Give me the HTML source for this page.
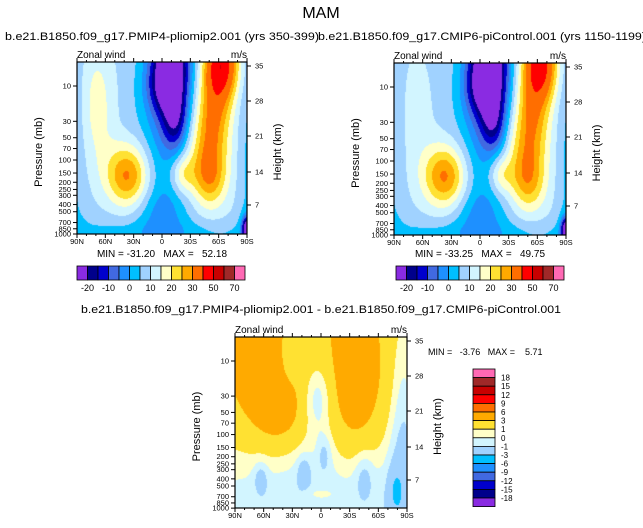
<!DOCTYPE html>
<html><head><meta charset="utf-8">
<style>
html,body{margin:0;padding:0;background:#fff;}
#wrap{position:relative;width:643px;height:528px;overflow:hidden;font-family:"Liberation Sans",sans-serif;}
canvas{position:absolute;}
svg{position:absolute;left:0;top:0;}
</style></head>
<body>
<div id="wrap">
<canvas id="cA" width="170" height="172" style="left:77px;top:62px"></canvas>
<canvas id="cB" width="172" height="172" style="left:394px;top:63px"></canvas>
<canvas id="cC" width="172" height="171" style="left:235px;top:337px"></canvas>
<svg id="sv" width="643" height="528"></svg>
</div>
<script>
// ---- data ----
const colors=["#8a2be2","#00008b","#0000cd","#4169e1","#1e90ff","#00bfff","#a0d2ff","#d2f5ff","#ffffc8","#ffe132","#ffaa00","#ff6e00","#ff0000","#c80000","#a02828","#ff69b4"];
const levelsTop=[-20,-15,-10,-5,0,5,10,15,20,25,30,40,50,60,70];
const levelsDiff=[-18,-15,-12,-9,-6,-3,-1,0,1,3,6,9,12,15,18];
const topTickLabels=["-20","-10","0","10","20","30","50","70"];
const latLabels=["90N","60N","30N","0","30S","60S","90S"];
const pressureLabels=[10,30,50,70,100,150,200,250,300,400,500,700,850,1000];
const heightLabels=[35,28,21,14,7];
const heightOffsets=[4,39,74,110,143];
// blobs: [u, v, sx, sy, amplitude]
const baseA=7;
const blobsA=[[0.12,0.25,0.08,0.3,10],[0.3,0.66,0.09,0.13,24],[0.55,0.03,0.08,0.2,-40],[0.5,0.15,0.07,0.1,-8],[0.58,0.35,0.05,0.12,-16],
[0.5,0.55,0.1,0.3,-7],[0.5,0.88,0.1,0.1,-6],[0.85,0.0,0.07,0.15,36],[0.8,0.3,0.07,0.2,18],[0.74,0.55,0.08,0.17,10],
[0.62,0.65,0.05,0.08,12],[0.78,0.68,0.07,0.12,13],[0.85,0.5,0.1,0.4,4],[0.5,1.0,0.6,0.06,-5],[1.0,0.97,0.02,0.05,-35],[0.0,0.5,0.04,0.6,-3],[1.0,0.5,0.04,0.6,-4]];
const baseB=7;
const blobsB=[[0.13,0.3,0.09,0.35,5],[0.3,0.66,0.09,0.13,24],[0.55,0.03,0.08,0.2,-42],[0.5,0.15,0.07,0.1,-8],[0.58,0.35,0.05,0.12,-16],
[0.5,0.55,0.1,0.3,-7],[0.5,0.88,0.1,0.1,-6],[0.85,0.0,0.07,0.15,34],[0.8,0.3,0.07,0.2,17],[0.74,0.55,0.08,0.17,10],
[0.62,0.65,0.05,0.08,11],[0.78,0.7,0.07,0.12,12],[0.85,0.5,0.1,0.4,4],[0.5,1.0,0.6,0.06,-5],[1.0,0.97,0.02,0.05,-35],[0.0,0.5,0.04,0.6,-3],[1.0,0.5,0.04,0.6,-4]];
const baseC=2.5;
const blobsC=[[0.5,1.0,0.8,0.35,-3.5],[0.15,0.15,0.12,0.3,2.5],[0.27,0.45,0.1,0.15,2.0],[0.7,0.3,0.1,0.32,2.6],[0.48,0.35,0.06,0.15,-2.6],
[0.32,0.1,0.04,0.12,-1.8],[0.98,0.5,0.06,0.6,-2.5],[0.15,0.82,0.03,0.07,-1.6],[0.4,0.78,0.03,0.07,-1.6],[0.52,0.68,0.03,0.08,-1.6],
[0.75,0.8,0.04,0.1,-1.6],[0.93,0.9,0.03,0.1,-1.6],[0.5,0.92,0.06,0.025,1.2]];

function field(base,blobs,u,v){let s=base;for(const b of blobs){const dx=(u-b[0])/b[2],dy=(v-b[1])/b[3];s+=b[4]*Math.exp(-0.5*(dx*dx+dy*dy));}return s;}
function colorFor(val,levels){let i=0;while(i<levels.length&&val>=levels[i])i++;return colors[i];}
function drawField(id,base,blobs,levels){
 const c=document.getElementById(id),ctx=c.getContext('2d');
 for(let y=0;y<c.height;y++)for(let x=0;x<c.width;x++){
  ctx.fillStyle=colorFor(field(base,blobs,(x+0.5)/c.width,(y+0.5)/c.height),levels);ctx.fillRect(x,y,1,1);}
}
drawField('cA',baseA,blobsA,levelsTop);
drawField('cB',baseB,blobsB,levelsTop);
drawField('cC',baseC,blobsC,levelsDiff);

const NS="http://www.w3.org/2000/svg",sv=document.getElementById('sv');
function el(t,a,txt){const e=document.createElementNS(NS,t);for(const k in a)e.setAttribute(k,a[k]);if(txt!==undefined)e.textContent=txt;sv.appendChild(e);return e;}
function txt(x,y,s,size,anchor,name,extra){const e=el('text',Object.assign({x:x,y:y,'font-size':size,'text-anchor':anchor||'start',fill:'#000','font-family':'Liberation Sans, sans-serif',style:'white-space:pre'},extra||{}),s);
 
 return e;}

function panel(L,T,W,H,key){
 const R=L+W,B=T+H;
 const fr=el('rect',{x:L,y:T,width:W,height:H,fill:'none',stroke:'#000','stroke-width':1.2});
 
 
 for(let i=0;i<=18;i++){const x=L+W*i/18,len=(i%3==0)?4:2;
  el('line',{x1:x,y1:B,x2:x,y2:B+len,stroke:'#000'});el('line',{x1:x,y1:T,x2:x,y2:T-len,stroke:'#000'});}
 latLabels.forEach((s,i)=>{txt(L+W*i/6,B+10,s,7.5,'middle',key+'-x-tick-label');});
 pressureLabels.forEach(p=>{const y=T+24+74*Math.log10(p/10)*(H/172);
  el('line',{x1:L,y1:y,x2:L-4,y2:y,stroke:'#000'});
  txt(L-6,y+2.5,String(p),7.5,'end',key+'-y-tick-label');});
 heightLabels.forEach((h,i)=>{const y=T+heightOffsets[i];
  el('line',{x1:R,y1:y,x2:R+4,y2:y,stroke:'#000'});
  txt(R+8,y+2.5,String(h),7.5,'start',key+'-height-tick-label');});
 txt(L-35,T+H/2+4,"Pressure (mb)",11,'middle',key+'-y-axis-title',{transform:`rotate(-90 ${L-35} ${T+H/2+4})`});
 txt(R+34,T+H/2+4,"Height (km)",11,'middle',key+'-height-axis-title',{transform:`rotate(-90 ${R+34} ${T+H/2+4})`});
 txt(L,T-4,"Zonal wind",10,'start',key+'-variable-label');
 txt(R,T-4,"m/s",10,'end',key+'-units-label');
}
panel(77,62,170,172,'pliomip');
panel(394,63,172,172,'picontrol');
panel(235,337,172,171,'diff');

txt(321,18,"MAM",16,'middle','main-title');
txt(5,40,"b.e21.B1850.f09_g17.PMIP4-pliomip2.001 (yrs 350-399)",11,'start','left-subtitle',{textLength:314,lengthAdjust:'spacingAndGlyphs'});
txt(318,40,"b.e21.B1850.f09_g17.CMIP6-piControl.001 (yrs 1150-1199)",11,'start','right-subtitle',{textLength:328,lengthAdjust:'spacingAndGlyphs'});
txt(321,313,"b.e21.B1850.f09_g17.PMIP4-pliomip2.001 - b.e21.B1850.f09_g17.CMIP6-piControl.001",11,'middle','diff-title',{textLength:480,lengthAdjust:'spacingAndGlyphs'});
txt(162,257,"MIN = -31.20   MAX =   52.18",10,'middle','pliomip-minmax');
txt(480,257,"MIN = -33.25   MAX =   49.75",10,'middle','picontrol-minmax');
txt(428,355,"MIN =   -3.76   MAX =    5.71",9,'start','diff-minmax');

function hbar(L,key){const T=266,bw=10.5,h=14;
 colors.forEach((c,i)=>{const r=el('rect',{x:L+i*bw,y:T,width:bw,height:h,fill:c,stroke:'#000','stroke-width':0.8});
  
  });
 topTickLabels.forEach((s,i)=>{txt(L+bw*(2*i+1),T+h+11,s,9,'middle',key+'-colorbar-label');});
}
hbar(77,'pliomip');hbar(396,'picontrol');
(function(){const L=473,T=369,w=22,bh=8.6;
 for(let i=0;i<16;i++){const r=el('rect',{x:L,y:T+i*bh,width:w,height:bh,fill:colors[15-i],stroke:'#000','stroke-width':0.8});
  
  }
 for(let i=0;i<15;i++){txt(L+28,T+(i+1)*bh+3,String(levelsDiff[14-i]),8,'start','diff-colorbar-label');}
})();
</script>
</body></html>
